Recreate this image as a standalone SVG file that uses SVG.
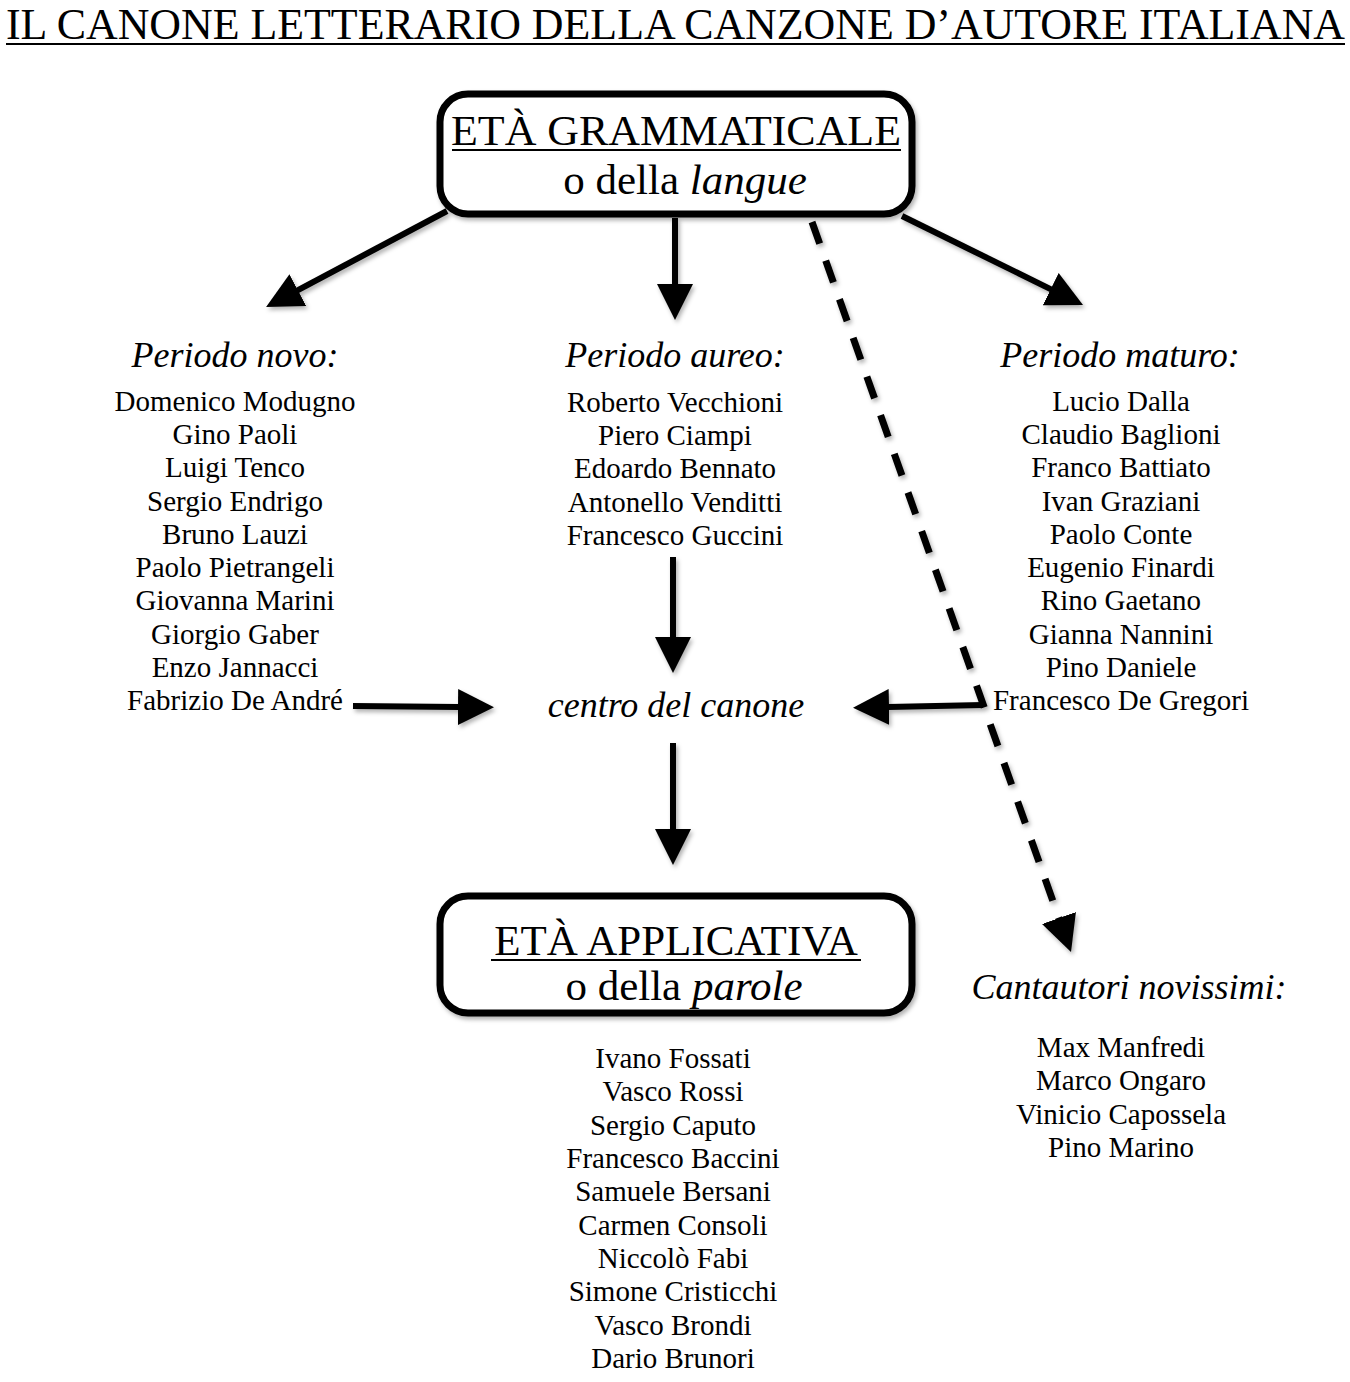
<svg xmlns="http://www.w3.org/2000/svg" width="1350" height="1382" viewBox="0 0 1350 1382">
<style>
text{font-family:"Liberation Serif","Times New Roman",serif;fill:#000}
.t{font-size:43.5px}
.h{font-size:43px;text-anchor:middle}
.n{font-size:29px;text-anchor:middle}
.i{font-size:36px;font-style:italic;text-anchor:middle}
.box{fill:#fff;stroke:#000;stroke-width:7}
.c{stroke:#000;stroke-width:6;fill:none}
.d{stroke-width:7;stroke-dasharray:23 18}
.u{stroke:#000;stroke-width:2.2}
</style>
<defs>
<filter id="sh" x="-10%" y="-10%" width="130%" height="140%">
<feDropShadow dx="2" dy="3" stdDeviation="2" flood-color="#000" flood-opacity="0.3"/>
</filter>
<marker id="ah" viewBox="0 0 36 36" markerUnits="userSpaceOnUse" markerWidth="36" markerHeight="36" refX="1" refY="18" orient="auto">
<path d="M0,0 L36,18 L0,36 Z" fill="#000"/>
</marker>
</defs>

<g id="title">
<text class="t" x="6" y="39" textLength="1339" lengthAdjust="spacingAndGlyphs">IL CANONE LETTERARIO DELLA CANZONE D’AUTORE ITALIANA</text>
<line class="u" x1="6" y1="44" x2="1345" y2="44"/>
</g>

<g id="connectors" filter="url(#sh)">
<line class="c" x1="447" y1="211" x2="297" y2="290.6" marker-end="url(#ah)"/>
<line class="c" x1="675" y1="218" x2="675" y2="285" marker-end="url(#ah)"/>
<line class="c" x1="902" y1="216" x2="1051.6" y2="289.6" marker-end="url(#ah)"/>
<line class="c d" x1="812" y1="222" x2="1059.3" y2="919" marker-end="url(#ah)"/>
<line class="c" x1="673" y1="557" x2="673" y2="638" marker-end="url(#ah)"/>
<line class="c" x1="353" y1="706" x2="459" y2="707" marker-end="url(#ah)"/>
<line class="c" x1="983" y1="705" x2="888" y2="707" marker-end="url(#ah)"/>
<line class="c" x1="673" y1="743" x2="673" y2="830" marker-end="url(#ah)"/>
</g>

<g id="eta-grammaticale">
<rect class="box" x="440" y="94" width="472" height="120" rx="28" filter="url(#sh)"/>
<text class="h" x="676" y="145" textLength="450" lengthAdjust="spacingAndGlyphs">ETÀ GRAMMATICALE</text>
<line class="u" x1="452" y1="150" x2="901" y2="150"/>
<text class="h" x="685" y="194">o della <tspan font-style="italic">langue</tspan></text>
</g>

<g id="periodo-novo">
<text class="i" x="235" y="367">Periodo novo:</text>
<text class="n" x="235" y="411">Domenico Modugno</text>
<text class="n" x="235" y="444">Gino Paoli</text>
<text class="n" x="235" y="477">Luigi Tenco</text>
<text class="n" x="235" y="511">Sergio Endrigo</text>
<text class="n" x="235" y="544">Bruno Lauzi</text>
<text class="n" x="235" y="577">Paolo Pietrangeli</text>
<text class="n" x="235" y="610">Giovanna Marini</text>
<text class="n" x="235" y="644">Giorgio Gaber</text>
<text class="n" x="235" y="677">Enzo Jannacci</text>
<text class="n" x="235" y="710">Fabrizio De André</text>
</g>

<g id="periodo-aureo">
<text class="i" x="675" y="367">Periodo aureo:</text>
<text class="n" x="675" y="412">Roberto Vecchioni</text>
<text class="n" x="675" y="445">Piero Ciampi</text>
<text class="n" x="675" y="478">Edoardo Bennato</text>
<text class="n" x="675" y="512">Antonello Venditti</text>
<text class="n" x="675" y="545">Francesco Guccini</text>
</g>

<g id="periodo-maturo">
<text class="i" x="1120" y="367">Periodo maturo:</text>
<text class="n" x="1121" y="411">Lucio Dalla</text>
<text class="n" x="1121" y="444">Claudio Baglioni</text>
<text class="n" x="1121" y="477">Franco Battiato</text>
<text class="n" x="1121" y="511">Ivan Graziani</text>
<text class="n" x="1121" y="544">Paolo Conte</text>
<text class="n" x="1121" y="577">Eugenio Finardi</text>
<text class="n" x="1121" y="610">Rino Gaetano</text>
<text class="n" x="1121" y="644">Gianna Nannini</text>
<text class="n" x="1121" y="677">Pino Daniele</text>
<text class="n" x="1121" y="710">Francesco De Gregori</text>
</g>

<g id="centro">
<text class="i" x="676" y="717">centro del canone</text>
</g>

<g id="eta-applicativa">
<rect class="box" x="440" y="896" width="472" height="117" rx="28" filter="url(#sh)"/>
<text class="h" x="676" y="955">ETÀ APPLICATIVA</text>
<line class="u" x1="491" y1="960" x2="861" y2="960"/>
<text class="h" x="684" y="1000">o della <tspan font-style="italic">parole</tspan></text>
<text class="n" x="673" y="1068">Ivano Fossati</text>
<text class="n" x="673" y="1101">Vasco Rossi</text>
<text class="n" x="673" y="1135">Sergio Caputo</text>
<text class="n" x="673" y="1168">Francesco Baccini</text>
<text class="n" x="673" y="1201">Samuele Bersani</text>
<text class="n" x="673" y="1235">Carmen Consoli</text>
<text class="n" x="673" y="1268">Niccolò Fabi</text>
<text class="n" x="673" y="1301">Simone Cristicchi</text>
<text class="n" x="673" y="1335">Vasco Brondi</text>
<text class="n" x="673" y="1368">Dario Brunori</text>
</g>

<g id="novissimi">
<text class="i" x="1129" y="999">Cantautori novissimi:</text>
<text class="n" x="1121" y="1057">Max Manfredi</text>
<text class="n" x="1121" y="1090">Marco Ongaro</text>
<text class="n" x="1121" y="1124">Vinicio Capossela</text>
<text class="n" x="1121" y="1157">Pino Marino</text>
</g>
</svg>
